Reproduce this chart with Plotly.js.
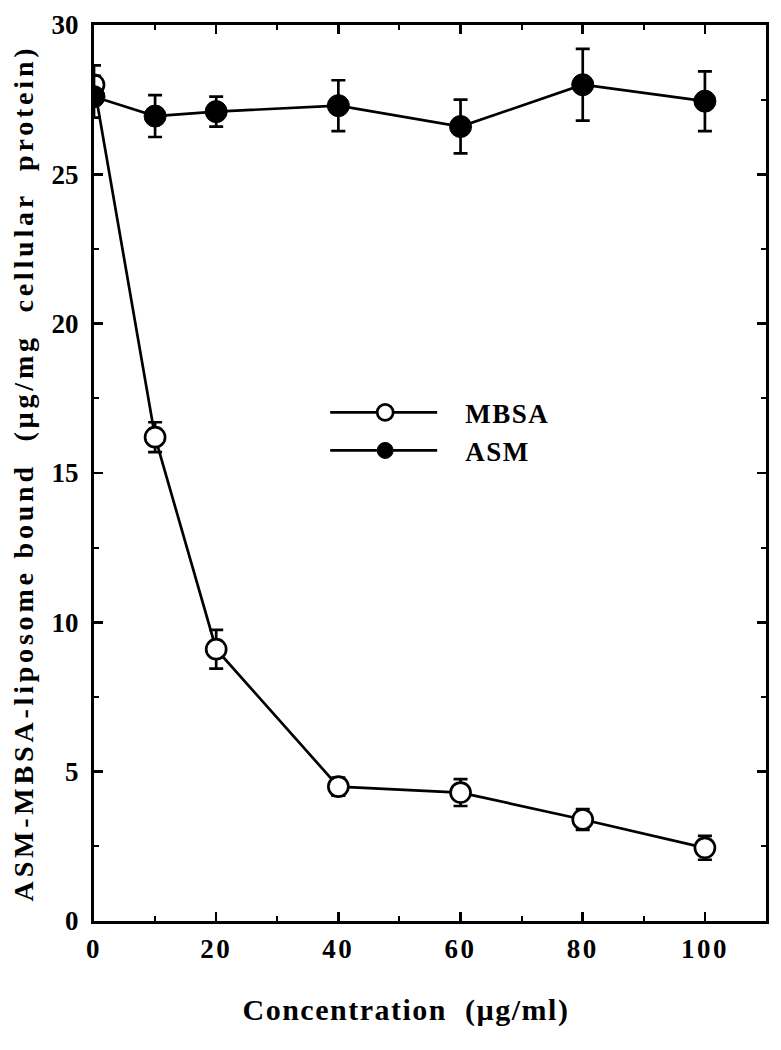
<!DOCTYPE html>
<html>
<head>
<meta charset="utf-8">
<script src="https://cdn.plot.ly/plotly-3.0.1.min.js"></script>
<style>
  body { margin: 0; background: #fff; }
  #chart { width: 781px; height: 1050px; }
  /* the original figure uses widely tracked type */
  #chart .xtick text { letter-spacing: 2.5px; }
  #chart .annotation-text { letter-spacing: 1.5px; }
  #chart .ytitle { letter-spacing: 3.8px; }
  #chart .legendtext { letter-spacing: 1.5px; }
</style>
</head>
<body>
<div id="chart"></div>
<script>
// concentration (ug/ml)
var conc = [0, 10, 20, 40, 60, 80, 100];

// MBSA competitor (open circles)
var mbsa = [28.0, 16.2, 9.1, 4.5, 4.3, 3.4, 2.45];
var mbsaErr = [0.65, 0.5, 0.65, 0.3, 0.45, 0.35, 0.4];

// ASM competitor (filled circles)
var asm = [27.6, 26.95, 27.1, 27.3, 26.6, 28.0, 27.45];
var asmErr = [0.7, 0.7, 0.5, 0.85, 0.9, 1.2, 1.0];

var xTicks = [0, 20, 40, 60, 80, 100];
var yTicks = [0, 5, 10, 15, 20, 25, 30];

var serif = "Liberation Serif, Times New Roman, serif";

var errStyle = {type: "data", visible: true, color: "black", thickness: 2.7, width: 7};

var traceMbsa = {
    x: conc, y: mbsa, name: "MBSA",
    type: "scatter", mode: "lines+markers",
    line: {color: "black", width: 2.7},
    marker: {symbol: "circle", size: 20, color: "white", line: {color: "black", width: 2.7}},
    error_y: Object.assign({array: mbsaErr}, errStyle)
};

var traceAsm = {
    x: conc, y: asm, name: "ASM",
    type: "scatter", mode: "lines+markers",
    line: {color: "black", width: 2.7},
    marker: {symbol: "circle", size: 22, color: "black", line: {color: "black", width: 1}},
    error_y: Object.assign({array: asmErr}, errStyle)
};

var axisCommon = {
    showline: true, linecolor: "black", linewidth: 3, mirror: "ticks",
    ticks: "inside", ticklen: 9, tickwidth: 2.5, tickcolor: "black",
    showgrid: false, zeroline: false,
    tickfont: {family: serif, size: 27, color: "black", weight: "bold"}
};

var layout = {
    width: 781, height: 1050,
    margin: {l: 94, r: 15, t: 25, b: 129},
    paper_bgcolor: "white", plot_bgcolor: "white",
    showlegend: true,
    legend: {
        x: 0.344, y: 0.546, xanchor: "left", yanchor: "middle",
        bgcolor: "rgba(0,0,0,0)", tracegroupgap: 0, itemwidth: 130,
        font: {family: serif, size: 27, color: "black", weight: "bold"}
    },
    xaxis: Object.assign({}, axisCommon, {
        range: [0, 110], tickvals: xTicks, ticklabelstandoff: 2,
        minor: {tickvals: [10, 30, 50, 70, 90], ticks: "inside", ticklen: 5, tickwidth: 2, tickcolor: "black"}
    }),
    yaxis: Object.assign({}, axisCommon, {
        range: [0, 30], tickvals: yTicks, ticklabelstandoff: 7,
        minor: {tickvals: [2.5, 7.5, 12.5, 17.5, 22.5, 27.5], ticks: "inside", ticklen: 5, tickwidth: 2, tickcolor: "black"},
        title: {text: "ASM-MBSA-liposome bound  (\u00b5g/mg  cellular  protein)", standoff: 10,
                font: {family: serif, size: 28, color: "black", weight: "bold"}}
    }),
    // x title sits centred under the 0-100 data span in the original
    annotations: [{
        text: "Concentration  (\u00b5g/ml)", showarrow: false,
        xref: "x", x: 51, yref: "paper", y: -0.099, xanchor: "center", yanchor: "middle",
        font: {family: serif, size: 30, color: "black", weight: "bold"}
    }]
};

Plotly.newPlot("chart", [traceMbsa, traceAsm], layout, {displayModeBar: false, staticPlot: true})
    .then(function (gd) {
        // longer legend lines with the symbol in the middle, as in the figure
        gd.querySelectorAll(".legend .traces .legendlines path").forEach(function (p) {
            p.setAttribute("d", "M5,0h107");
        });
        gd.querySelectorAll(".legend .traces .legendpoints path").forEach(function (p) {
            p.setAttribute("transform", "translate(60,0)");
        });
    });
</script>
</body>
</html>
